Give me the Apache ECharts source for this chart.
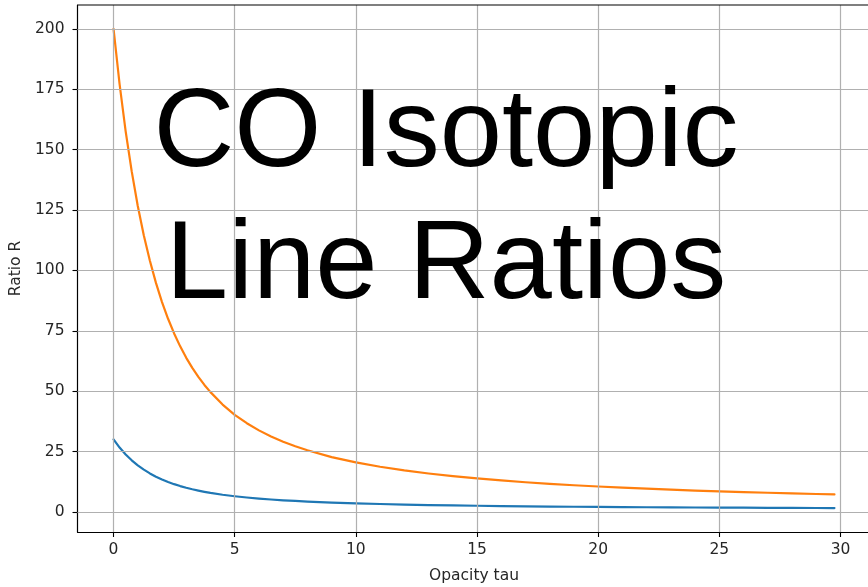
<!DOCTYPE html>
<html>
<head>
<meta charset="utf-8">
<title>CO Isotopic Line Ratios</title>
<script src="https://cdn.jsdelivr.net/npm/echarts@6/dist/echarts.min.js"></script>
<style>
  html, body { margin: 0; padding: 0; background: #ffffff; }
  #chart { width: 868px; height: 587px; }
</style>
</head>
<body>
<div id="chart"></div>
<script>
// Optical depth of the main line
const tau = [0, 0.25, 0.5, 0.75, 1, 1.25, 1.5, 1.75, 2, 2.25, 2.5, 2.75, 3, 3.25, 3.5, 3.75, 4,
             4.5, 5, 5.5, 6, 6.5, 7, 7.5, 8, 9, 10, 11, 12, 13, 14, 15, 16, 17, 18, 19, 20,
             21, 22, 23, 24, 25, 26, 27, 28, 29, 29.75];

// Line ratio for an abundance ratio of 30
const ratioLow = [30.0, 26.65, 23.8, 21.37, 19.28, 17.48, 15.93, 14.58, 13.41, 12.38, 11.48, 10.69,
                  9.98, 9.36, 8.81, 8.31, 7.86, 7.10, 6.47, 5.95, 5.50, 5.13, 4.80, 4.52, 4.27,
                  3.86, 3.53, 3.26, 3.03, 2.84, 2.68, 2.54, 2.42, 2.31, 2.22, 2.13, 2.06,
                  1.99, 1.92, 1.87, 1.82, 1.77, 1.73, 1.69, 1.65, 1.61, 1.59];

// Line ratio for an abundance ratio of 200
const ratioHigh = [200.0, 177.1, 157.6, 141.0, 126.7, 114.5, 104.0, 94.84, 86.9, 79.97, 73.9, 68.55,
                   63.8, 59.63, 55.9, 52.57, 49.6, 44.45, 40.2, 36.72, 33.75, 31.22, 29.05, 27.15,
                   25.5, 22.7, 20.5, 18.69, 17.17, 15.89, 14.79, 13.84, 13.01, 12.27, 11.62, 11.03,
                   10.51, 10.03, 9.60, 9.21, 8.84, 8.51, 8.20, 7.92, 7.65, 7.41, 7.23];

const xTicks = [0, 5, 10, 15, 20, 25, 30];
const yTicks = [0, 25, 50, 75, 100, 125, 150, 175, 200];

const titleLines = ['CO Isotopic', 'Line Ratios'];

const pairs = (xs, ys) => xs.map((x, i) => [x, ys[i]]);

const FONT = 'DejaVu Sans';
const tickFont = { color: '#262626', fontSize: 15.5, fontFamily: FONT };
const nameFont = { color: '#262626', fontSize: 15.5, fontFamily: FONT };

const chart = echarts.init(document.getElementById('chart'), null, { renderer: 'canvas' });

chart.setOption({
  animation: false,
  backgroundColor: '#ffffff',
  grid: { left: 77.5, top: 5, width: 793, height: 527, containLabel: false,
          outerBoundsMode: 'none', show: false },
  xAxis: {
    type: 'value',
    min: -1.4875,
    max: 31.2375,
    name: 'Opacity tau',
    nameLocation: 'middle',
    nameGap: 36,
    nameTextStyle: nameFont,
    axisLine: { show: true, onZero: false, lineStyle: { color: '#000000', width: 1.2 } },
    axisTick: { show: true, length: 5, lineStyle: { color: '#000000', width: 1.1 },
                customValues: xTicks },
    axisLabel: Object.assign({ margin: 10, customValues: xTicks,
                               formatter: v => String(v) }, tickFont),
    splitLine: { show: false }
  },
  yAxis: {
    type: 'value',
    min: -8.33,
    max: 209.92,
    name: 'Ratio R',
    nameLocation: 'middle',
    nameGap: 54,
    nameRotate: 90,
    nameTextStyle: nameFont,
    axisLine: { show: true, onZero: false, lineStyle: { color: '#000000', width: 1.2 } },
    axisTick: { show: true, length: 5, lineStyle: { color: '#000000', width: 1.1 },
                customValues: yTicks },
    axisLabel: Object.assign({ margin: 13, customValues: yTicks,
                               formatter: v => String(v) }, tickFont),
    splitLine: { show: false }
  },
  series: [
    // grid lines drawn at the tick values
    {
      type: 'line',
      data: [],
      silent: true,
      markLine: {
        silent: true,
        symbol: 'none',
        label: { show: false },
        lineStyle: { color: '#b0b0b0', width: 1.2, type: 'solid' },
        data: xTicks.map(v => ({ xAxis: v })).concat(yTicks.map(v => ({ yAxis: v })))
      },
      z: 1
    },
    {
      name: 'X = 30',
      type: 'line',
      data: pairs(tau, ratioLow),
      showSymbol: false,
      smooth: false,
      lineStyle: { color: '#1f77b4', width: 2.2, cap: 'round', join: 'round' },
      itemStyle: { color: '#1f77b4' },
      z: 3
    },
    {
      name: 'X = 200',
      type: 'line',
      data: pairs(tau, ratioHigh),
      showSymbol: false,
      smooth: false,
      lineStyle: { color: '#ff7f0e', width: 2.2, cap: 'round', join: 'round' },
      itemStyle: { color: '#ff7f0e' },
      z: 3
    }
  ],
  graphic: [
    // top frame edge
    {
      type: 'line',
      shape: { x1: 77.5, y1: 5, x2: 870, y2: 5 },
      style: { stroke: '#000000', lineWidth: 1.2 },
      z: 50
    },
    {
      type: 'text',
      x: 446, y: 135,
      style: { text: titleLines[0], fill: '#000000', fontSize: 112,
               fontFamily: 'Liberation Sans', align: 'center', verticalAlign: 'middle' },
      z: 100
    },
    {
      type: 'text',
      x: 446, y: 267,
      style: { text: titleLines[1], fill: '#000000', fontSize: 112,
               fontFamily: 'Liberation Sans', align: 'center', verticalAlign: 'middle' },
      z: 100
    }
  ]
});
</script>
</body>
</html>
